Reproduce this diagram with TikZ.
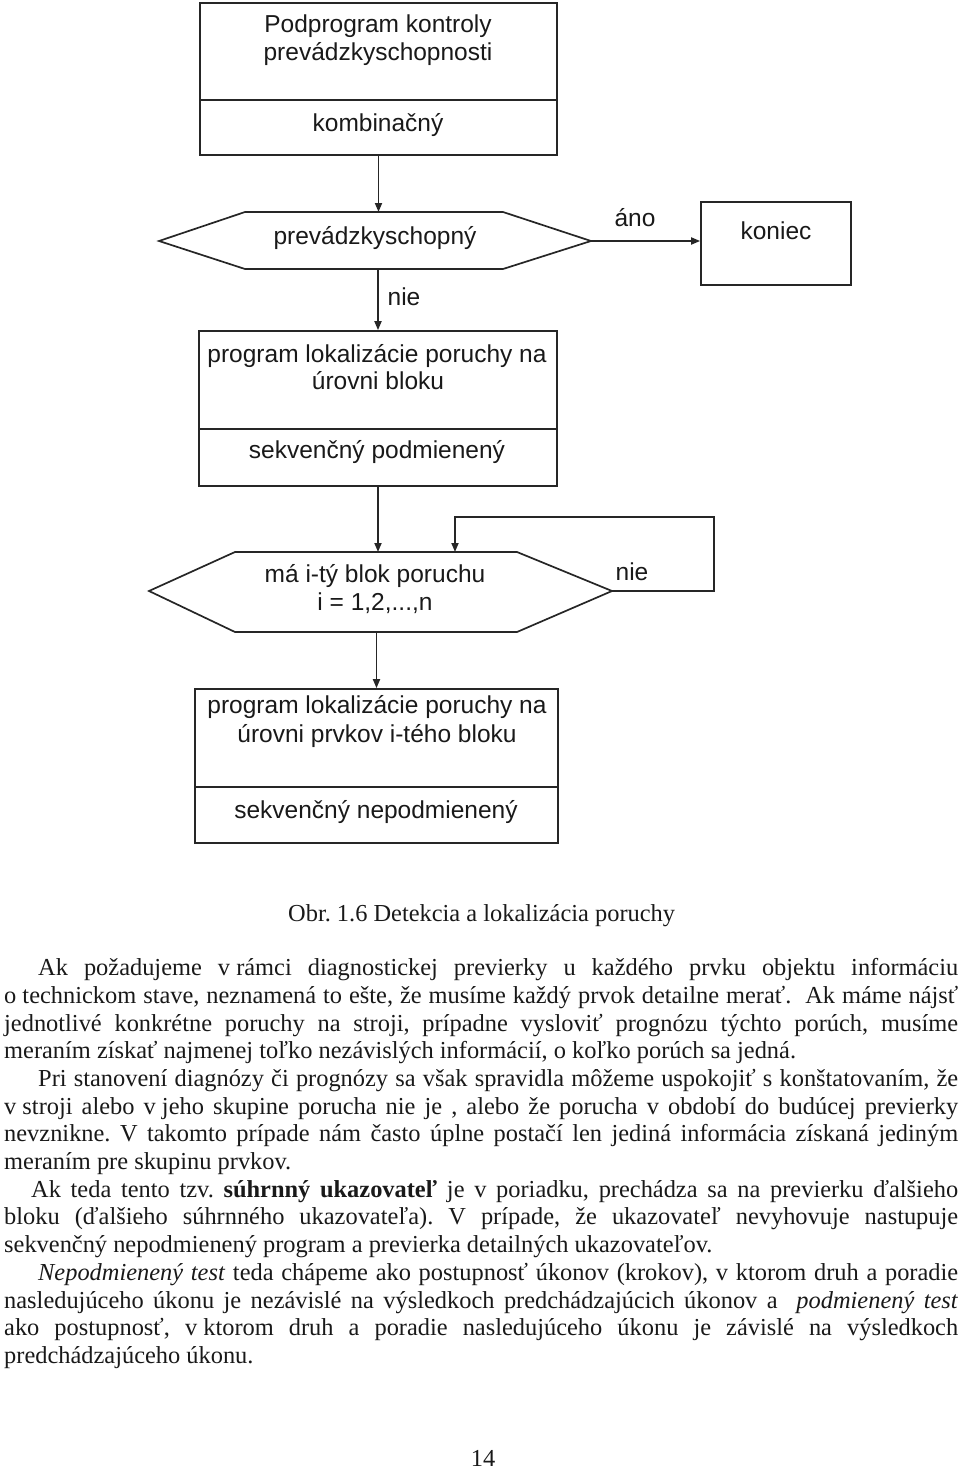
\documentclass[tikz,border=0pt]{standalone}
\usepackage{fontspec}
\setmainfont{Liberation Serif}
\newfontfamily\arialf{Liberation Sans}
\usetikzlibrary{arrows.meta}
\frenchspacing
\begin{document}
\begin{tikzpicture}[x=1pt,y=-1pt,
  ln/.style={line width=1.7pt, draw=black!85},
  arr/.style={ln, -{Triangle[length=9pt,width=7pt]}},
  boxnode/.style={ln, rectangle, inner sep=0pt},
  dtext/.style={font=\arialf\fontsize{24.5}{28}\selectfont, anchor=base, inner sep=0pt, text=black!90},
  btext/.style={font=\fontsize{24.4}{28}\selectfont, anchor=base west, inner sep=0pt, text=black!90}]
\useasboundingbox (0,0) rectangle (960,1469);

% ---------- boxes ----------
\node[boxnode, minimum width=357pt, minimum height=97pt] (b1a) at (378.5,51.5) {};
\node[boxnode, minimum width=357pt, minimum height=55pt] (b1b) at (378.5,127.5) {};
\node[boxnode, minimum width=150pt, minimum height=83pt] (kon) at (776,243.5) {};
\node[boxnode, minimum width=358pt, minimum height=98pt] (b2a) at (378,380) {};
\node[boxnode, minimum width=358pt, minimum height=57pt] (b2b) at (378,457.5) {};
\node[boxnode, minimum width=363pt, minimum height=98pt] (b3a) at (376.5,738) {};
\node[boxnode, minimum width=363pt, minimum height=56pt] (b3b) at (376.5,815) {};

% ---------- hexagons ----------
\coordinate (h1l) at (159,241);
\coordinate (h1tl) at (245,212);
\coordinate (h1tr) at (503,212);
\coordinate (h1r) at (591,241);
\coordinate (h1br) at (503,269);
\coordinate (h1bl) at (245,269);
\coordinate (h1t) at (378.5,212);
\coordinate (h1b) at (378,269);
\draw[ln] (h1l) -- (h1tl) -- (h1tr) -- (h1r) -- (h1br) -- (h1bl) -- cycle;

\coordinate (h2l) at (149,591);
\coordinate (h2tl) at (235,552);
\coordinate (h2tr) at (517,552);
\coordinate (h2r) at (612,591);
\coordinate (h2br) at (517,632);
\coordinate (h2bl) at (235,632);
\coordinate (h2t) at (378,552);
\coordinate (h2b) at (376.5,632);
\coordinate (h2in) at (455,552);
\draw[ln] (h2l) -- (h2tl) -- (h2tr) -- (h2r) -- (h2br) -- (h2bl) -- cycle;

% ---------- loop corners ----------
\coordinate (lp1) at (714,591);
\coordinate (lp2) at (714,517);
\coordinate (lp3) at (455,517);

% ---------- connectors ----------
\draw[arr] (b1b.south) -- (h1t);
\draw[arr] (h1r) -- (h1r -| kon.west);
\draw[arr] (h1b) -- (b2a.north);
\draw[arr] (b2b.south) -- (h2t);
\draw[arr] (h2r) -- (lp1) -- (lp2) -- (lp3) -- (h2in);
\draw[arr] (h2b) -- (b3a.north);

% ---------- diagram texts ----------
\node[dtext] (t1) at (378,33) {Podprogram kontroly};
\node[dtext] (t2) at (378,60.5) {prevádzkyschopnosti};
\node[dtext] (t3) at (378,131.5) {kombinačný};
\node[dtext] (t4) at (375,244) {prevádzkyschopný};
\node[dtext] (t5) at (635,226) {áno};
\node[dtext] (t6) at (776,239) {koniec};
\node[dtext] (t7) at (404,305) {nie};
\node[dtext] (t8) at (377,362) {program lokalizácie poruchy na};
\node[dtext] (t9) at (378,389.5) {úrovni bloku};
\node[dtext] (t10) at (377,458.5) {sekvenčný podmienený};
\node[dtext] (t11) at (375,582) {má i-tý blok poruchu};
\node[dtext] (t12) at (375,610.5) {i = 1,2,...,n};
\node[dtext] (t13) at (632,580.5) {nie};
\node[dtext] (t14) at (377,713.5) {program lokalizácie poruchy na};
\node[dtext] (t15) at (377,742) {úrovni prvkov i-tého bloku};
\node[dtext] (t16) at (376,818.5) {sekvenčný nepodmienený};

% ---------- caption ----------
\node[btext] (cap) at (288,921.5) {Obr. 1.6 Detekcia a lokalizácia poruchy};

% ---------- body text ----------
\node[btext] (l1) at (38,975.8) {\makebox[920pt][s]{Ak požadujeme \mbox{v rámci} diagnostickej previerky u každého prvku objektu informáciu}};
\node[btext] (l2) at (4,1003.5) {\makebox[954pt][s]{\mbox{o technickom} stave, neznamená to ešte, že musíme každý prvok detailne merať.\ \ Ak máme nájsť}};
\node[btext] (l3) at (4,1031.2) {\makebox[954pt][s]{jednotlivé konkrétne poruchy na stroji, prípadne vysloviť prognózu týchto porúch, musíme}};
\node[btext] (l4) at (4,1058.9) {meraním získať najmenej toľko nezávislých informácií, o koľko porúch sa jedná.};
\node[btext] (l5) at (38,1086.6) {\makebox[920pt][s]{Pri stanovení diagnózy či prognózy sa však spravidla môžeme uspokojiť s konštatovaním, že}};
\node[btext] (l6) at (4,1114.2) {\makebox[954pt][s]{\mbox{v stroji} alebo \mbox{v jeho} skupine porucha nie je , alebo že porucha v období do budúcej previerky}};
\node[btext] (l7) at (4,1141.9) {\makebox[954pt][s]{nevznikne. V takomto prípade nám často úplne postačí len jediná informácia získaná jediným}};
\node[btext] (l8) at (4,1169.6) {meraním pre skupinu prvkov.};
\node[btext] (l9) at (31,1197.2) {\makebox[927pt][s]{Ak teda tento tzv. \textbf{súhrnný ukazovateľ} je v poriadku, prechádza sa na previerku ďalšieho}};
\node[btext] (l10) at (4,1224.9) {\makebox[954pt][s]{bloku (ďalšieho súhrnného ukazovateľa). V prípade, že ukazovateľ nevyhovuje nastupuje}};
\node[btext] (l11) at (4,1252.6) {sekvenčný nepodmienený program a previerka detailných ukazovateľov.};
\node[btext] (l12) at (38,1280.3) {\makebox[920pt][s]{\textit{Nepodmienený test} teda chápeme ako postupnosť úkonov (krokov), v ktorom druh a poradie}};
\node[btext] (l13) at (4,1308.0) {\makebox[954pt][s]{nasledujúceho úkonu je nezávislé na výsledkoch predchádzajúcich úkonov a\ \ \textit{podmienený test}}};
\node[btext] (l14) at (4,1335.7) {\makebox[954pt][s]{ako postupnosť, \mbox{v ktorom} druh a poradie nasledujúceho úkonu je závislé na výsledkoch}};
\node[btext] (l15) at (4,1363.4) {predchádzajúceho úkonu.};

% ---------- page number ----------
\node[btext, anchor=base] (pg) at (483,1466) {14};
\end{tikzpicture}
\end{document}
